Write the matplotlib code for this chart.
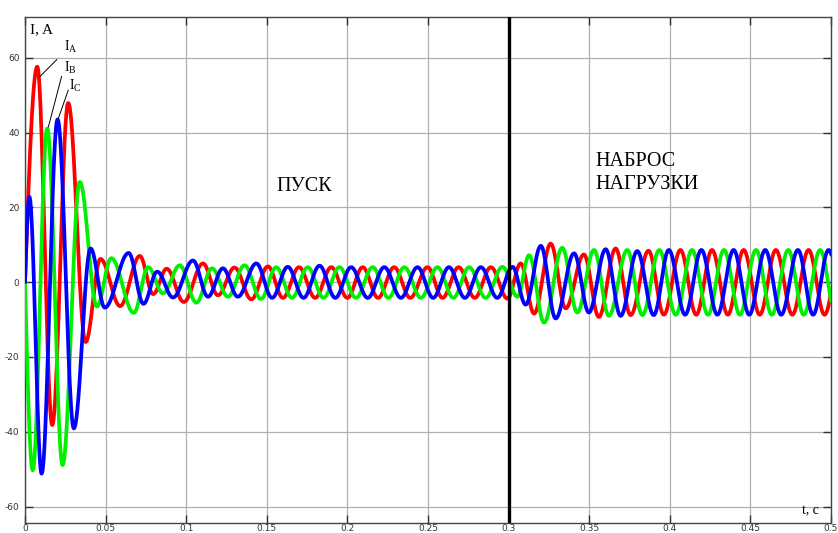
import numpy as np
import matplotlib
matplotlib.use("Agg")
import matplotlib.pyplot as plt

# ---- data: successive extrema (time s, current A) ----
ia_t = [0.0, 0.0076, 0.0169, 0.0268, 0.0376, 0.0468, 0.0590, 0.0712, 0.0795, 0.0879,
        0.0985, 0.1104, 0.1197, 0.1300, 0.1404, 0.1507, 0.1600, 0.1700, 0.1800, 0.1900,
        0.2000, 0.2095, 0.2190, 0.2290, 0.2390, 0.2497, 0.2590, 0.2690, 0.2790, 0.2890,
        0.2993, 0.3075, 0.3158, 0.3261, 0.3354, 0.3467, 0.3560, 0.3664, 0.3757, 0.3868,
        0.3963, 0.4066, 0.4164, 0.4262, 0.4360, 0.4458, 0.4558, 0.4658, 0.4760, 0.4861,
        0.4960, 0.5060]
ia_v = [0.0, 57.6, -38.2, 47.9, -16.0, 6.2, -6.4, 7.0, -3.2, 3.6,
        -5.3, 5.0, -3.5, 3.9, -4.6, 4.2, -4.2, 4.0, -4.2, 4.0,
        -4.2, 4.0, -4.2, 4.0, -4.2, 4.0, -4.2, 4.0, -4.2, 4.0,
        -4.4, 5.0, -8.4, 10.3, -7.0, 7.4, -9.3, 9.0, -8.8, 8.4,
        -8.7, 8.6, -8.7, 8.6, -8.7, 8.6, -8.7, 8.6, -8.7, 8.6,
        -8.7, 8.6]

ib_t = [0.0, 0.0048, 0.0138, 0.0233, 0.0340, 0.0446, 0.0535, 0.0675, 0.0764, 0.0856,
        0.0960, 0.1063, 0.1160, 0.1259, 0.1362, 0.1464, 0.1558, 0.1656, 0.1754, 0.1852,
        0.1950, 0.2053, 0.2157, 0.2255, 0.2353, 0.2456, 0.2559, 0.2657, 0.2755, 0.2858,
        0.2962, 0.3055, 0.3127, 0.3220, 0.3333, 0.3426, 0.3530, 0.3622, 0.3736, 0.3830,
        0.3935, 0.4037, 0.4138, 0.4237, 0.4336, 0.4435, 0.4535, 0.4633, 0.4735, 0.4831,
        0.4933, 0.5030]
ib_v = [0.0, -50.3, 41.1, -48.9, 26.8, -6.5, 6.4, -8.2, 4.0, -3.0,
        4.5, -5.5, 3.7, -3.9, 4.5, -4.5, 4.0, -4.2, 4.0, -4.2,
        4.0, -4.2, 4.0, -4.2, 4.0, -4.2, 4.0, -4.2, 4.0, -4.2,
        4.1, -3.9, 7.2, -10.8, 9.2, -8.1, 8.6, -9.0, 8.6, -8.8,
        8.6, -8.7, 8.6, -8.7, 8.6, -8.7, 8.6, -8.7, 8.6, -8.7,
        8.6, -8.7]

ic_t = [0.0, 0.0027, 0.0103, 0.0202, 0.0303, 0.0407, 0.0495, 0.0643, 0.0735, 0.0820,
        0.0918, 0.1042, 0.1135, 0.1228, 0.1320, 0.1435, 0.1533, 0.1630, 0.1728, 0.1827,
        0.1925, 0.2023, 0.2126, 0.2229, 0.2332, 0.2435, 0.2532, 0.2630, 0.2729, 0.2828,
        0.2930, 0.3024, 0.3106, 0.3200, 0.3292, 0.3406, 0.3498, 0.3602, 0.3695, 0.3798,
        0.3900, 0.3994, 0.4095, 0.4196, 0.4295, 0.4396, 0.4493, 0.4592, 0.4691, 0.4795,
        0.4889, 0.4985, 0.5085]
ic_v = [0.0, 22.8, -51.2, 43.5, -39.1, 9.0, -6.8, 7.8, -5.8, 2.8,
        -4.1, 5.8, -3.9, 3.7, -3.9, 5.0, -4.2, 4.1, -4.2, 4.4,
        -4.2, 4.0, -4.2, 4.0, -4.2, 4.0, -4.2, 4.0, -4.2, 4.0,
        -4.2, 4.1, -6.0, 9.7, -9.7, 7.7, -8.1, 8.8, -9.0, 8.3,
        -8.8, 8.6, -8.7, 8.6, -8.7, 8.6, -8.7, 8.6, -8.7, 8.6,
        -8.7, 8.6, -8.7]

x_ticks = [0, 0.05, 0.1, 0.15, 0.2, 0.25, 0.3, 0.35, 0.4, 0.45, 0.5]
x_tick_labels = ["0", "0.05", "0.1", "0.15", "0.2", "0.25", "0.3", "0.35", "0.4", "0.45", "0.5"]
y_ticks = [-60, -40, -20, 0, 20, 40, 60]
y_tick_labels = ["-60", "-40", "-20", "0", "20", "40", "60"]
load_time = 0.3


def smooth_through_extrema(ts, vs, n=40):
    """Draw a smooth wave passing through the listed extrema."""
    xs, ys = [], []
    for i in range(len(ts) - 1):
        s = np.linspace(0, 1, n, endpoint=False)
        t0, t1, v0, v1 = ts[i], ts[i + 1], vs[i], vs[i + 1]
        if i == 0 and v0 == 0.0:
            seg = v1 * np.sin(np.pi / 2 * s)
        else:
            seg = v0 + (v1 - v0) * (1 - np.cos(np.pi * s)) / 2
        xs.append(t0 + (t1 - t0) * s)
        ys.append(seg)
    xs.append([ts[-1]])
    ys.append([vs[-1]])
    return np.concatenate(xs), np.concatenate(ys)


fig = plt.figure(figsize=(8.38, 5.33), dpi=100)
ax = fig.add_axes([25 / 838, 1 - 523 / 533, 806 / 838, 506 / 533])

serif = ["Liberation Serif", "DejaVu Serif"]

for ts, vs, col in [(ia_t, ia_v, "#ff0000"), (ib_t, ib_v, "#00f000"), (ic_t, ic_v, "#0000ff")]:
    x, y = smooth_through_extrema(ts, vs)
    ax.plot(x, y, color=col, lw=2.7, solid_capstyle="round", zorder=3)

ax.axvline(load_time, color="black", lw=2.4, zorder=4)

ax.set_xlim(0, 0.5)
ax.set_ylim(-64.4, 70.9)
ax.set_xticks(x_ticks)
ax.set_xticklabels(x_tick_labels)
ax.set_yticks(y_ticks)
ax.set_yticklabels(y_tick_labels)
ax.grid(True, color="#b0b0b0", lw=0.9, zorder=0)
ax.tick_params(direction="in", length=6, width=1, top=True, right=True,
               labelsize=6.5, labelcolor="#333333", color="#333333")
ax.tick_params(axis="x", pad=1)
ax.tick_params(axis="y", pad=4)
for sp in ax.spines.values():
    sp.set_color("#444444")
    sp.set_linewidth(1.0)

ax.text(0.003, 67.5, "I, A", fontsize=11, family=serif, va="center", ha="left")

# phase labels with leaders
ax.text(0.0245, 63.0, "I", fontsize=10, family=serif, va="center")
ax.text(0.0270, 62.2, "A", fontsize=7, family=serif, va="center")
ax.plot([0.0197, 0.0093], [59.5, 55.0], color="black", lw=0.7, zorder=5)
ax.text(0.0245, 57.5, "I", fontsize=10, family=serif, va="center")
ax.text(0.0270, 56.7, "B", fontsize=7, family=serif, va="center")
ax.plot([0.0227, 0.0145], [55.0, 41.5], color="black", lw=0.7, zorder=5)
ax.text(0.0278, 52.7, "I", fontsize=10, family=serif, va="center")
ax.text(0.0303, 51.9, "C", fontsize=7, family=serif, va="center")
ax.plot([0.0268, 0.0207], [51.3, 43.8], color="black", lw=0.7, zorder=5)

ax.text(0.156, 25.5, "ПУСК", fontsize=14.5, family=serif, va="center", ha="left")
ax.text(0.354, 32.3, "НАБРОС", fontsize=14.5, family=serif, va="center", ha="left")
ax.text(0.354, 26.0, "НАГРУЗКИ", fontsize=14.5, family=serif, va="center", ha="left")
ax.text(0.482, -61.0, "t, c", fontsize=10, family=serif, va="center", ha="left")

fig.savefig("out.png", dpi=100)
